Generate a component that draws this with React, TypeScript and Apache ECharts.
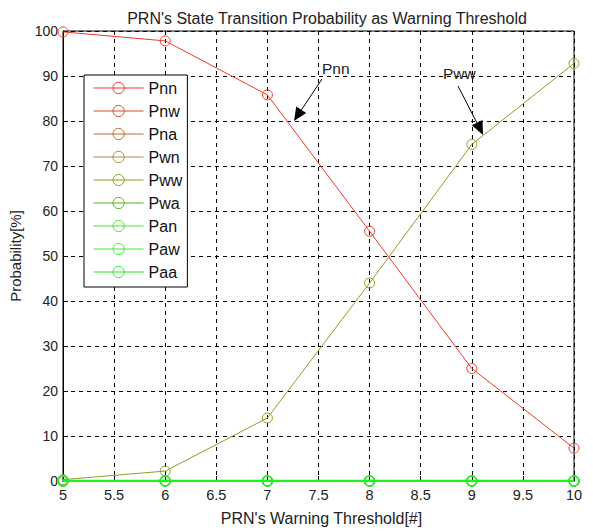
import React, { useEffect, useRef } from "react";
import * as echarts from "echarts";

const thresholds = [5, 6, 7, 8, 9, 10];
const seriesNames = ["Pnn", "Pnw", "Pna", "Pwn", "Pww", "Pwa", "Pan", "Paw", "Paa"];
const pnn = [99.8, 97.8, 85.8, 55.5, 25.0, 7.3];
const pnw = [0, 0, 0, 0, 0, 0];
const pna = [0, 0, 0, 0, 0, 0];
const pwn = [0, 0, 0, 0, 0, 0];
const pww = [0.3, 2.2, 14.0, 44.0, 74.8, 92.8];
const pwa = [0, 0, 0, 0, 0, 0];
const pan = [0, 0, 0, 0, 0, 0];
const paw = [0, 0, 0, 0, 0, 0];
const paa = [0, 0, 0, 0, 0, 0];
const seriesValues = [pnn, pnw, pna, pwn, pww, pwa, pan, paw, paa];
const seriesColors = [
  "#f03a2a",
  "#e04a1c",
  "#c8682a",
  "#a89040",
  "#8aa020",
  "#50b818",
  "#50e040",
  "#38f030",
  "#20f020",
];

export default function App() {
  const ref = useRef<HTMLDivElement>(null);
  useEffect(() => {
    if (!ref.current) return;
    const chart = echarts.init(ref.current, undefined, { renderer: "svg" });
    const font = "Liberation Sans, Arial, sans-serif";
    const series = seriesNames.map((name, i) => ({
      name,
      type: "line",
      data: thresholds.map((x, j) => [x, seriesValues[i][j]]),
      symbol: "circle",
      symbolSize: 10,
      showSymbol: true,
      lineStyle: { color: seriesColors[i], width: i === 8 ? 2.5 : 1 },
      itemStyle: {
        color: "rgba(255,255,255,0)",
        borderColor: seriesColors[i],
        borderWidth: i === 8 ? 1.6 : 1,
      },
      emphasis: { disabled: true },
    }));
    chart.setOption({
      animation: false,
      backgroundColor: "#ffffff",
      title: {
        text: "PRN's State Transition Probability as Warning Threshold",
        left: 322,
        textAlign: "center",
        top: 5,
        textStyle: { fontFamily: font, fontSize: 16, fontWeight: "normal", color: "#222" },
      },
      grid: {
        left: 62,
        right: 19,
        top: 31,
        bottom: 49,
        show: true,
        borderColor: "#000",
        borderWidth: 1,
        backgroundColor: "#fff",
      },
      legend: {
        orient: "vertical",
        left: 84,
        top: 75,
        itemWidth: 50,
        itemHeight: 14,
        itemGap: 7,
        padding: [5, 5, 7, 9],
        borderColor: "#000",
        borderWidth: 1,
        backgroundColor: "#fff",
        lineStyle: { width: 1.2 },
        itemStyle: { borderWidth: 1 },
        textStyle: { fontFamily: font, fontSize: 16, color: "#111" },
        data: seriesNames,
      },
      xAxis: {
        type: "value",
        min: 5,
        max: 10,
        interval: 0.5,
        name: "PRN's Warning Threshold[#]",
        nameLocation: "middle",
        nameGap: 29,
        nameTextStyle: { fontFamily: font, fontSize: 16, color: "#222", padding: [0, 0, 0, 6] },
        axisLine: { show: true, lineStyle: { color: "#000" } },
        axisTick: { inside: true, length: 5, lineStyle: { color: "#000" } },
        axisLabel: { fontFamily: font, fontSize: 14.5, color: "#222", margin: 6 },
        splitLine: { show: true, lineStyle: { color: "#000", type: [4, 4], width: 1 } },
      },
      yAxis: {
        type: "value",
        min: 0,
        max: 100,
        interval: 10,
        name: "Probability[%]",
        nameLocation: "middle",
        nameGap: 40,
        nameTextStyle: { fontFamily: font, fontSize: 15, color: "#222" },
        axisLine: { show: true, lineStyle: { color: "#000" } },
        axisTick: { inside: true, length: 5, lineStyle: { color: "#000" } },
        axisLabel: { fontFamily: font, fontSize: 14, color: "#222", margin: 5 },
        splitLine: { show: true, lineStyle: { color: "#000", type: [4, 4], width: 1 } },
      },
      graphic: [
        {
          type: "text",
          left: 322,
          top: 60,
          style: { text: "Pnn", fontFamily: font, fontSize: 15.5, fill: "#222" },
          z: 100,
        },
        {
          type: "line",
          shape: { x1: 322, y1: 79, x2: 300, y2: 112 },
          style: { stroke: "#000", lineWidth: 1 },
          z: 100,
        },
        {
          type: "polygon",
          shape: { points: [[294, 121], [306.2, 113.0], [296.2, 106.4]] },
          style: { fill: "#000" },
          z: 100,
        },
        {
          type: "text",
          left: 443,
          top: 65,
          style: { text: "Pww", fontFamily: font, fontSize: 15.5, fill: "#222" },
          z: 100,
        },
        {
          type: "line",
          shape: { x1: 458, y1: 86, x2: 478, y2: 125 },
          style: { stroke: "#000", lineWidth: 1 },
          z: 100,
        },
        {
          type: "polygon",
          shape: { points: [[483, 135], [482.5, 119.9], [471.8, 125.3]] },
          style: { fill: "#000" },
          z: 100,
        },
      ],
      series,
    });
    return () => chart.dispose();
  }, []);
  return <div ref={ref} style={{ width: 593, height: 531, position: "absolute", left: 0, top: 0 }} />;
}
